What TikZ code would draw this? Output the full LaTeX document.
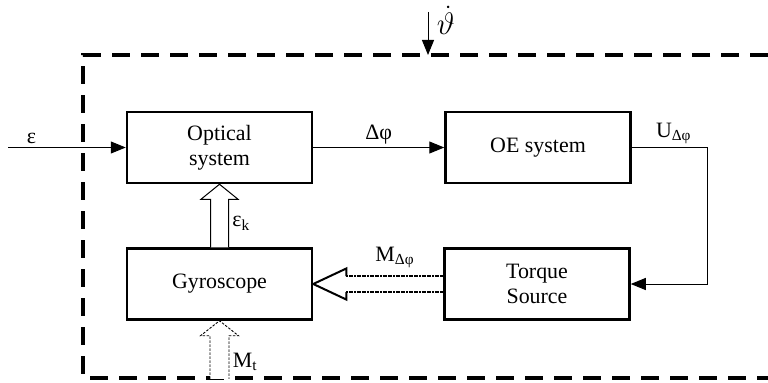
\documentclass[tikz,border=0pt]{standalone}
\usepackage{graphicx}
\usepackage{fontspec}
\setmainfont{Liberation Serif}
\usetikzlibrary{arrows.meta,positioning,calc}

\begin{document}
\begin{tikzpicture}[
  x=1bp, y=1bp,
  node distance=63bp and 131bp,
  every node/.style={font=\fontsize{22}{25}\selectfont},
  block/.style={draw, line width=2.5bp, align=center, fill=white,
                minimum width=185bp, minimum height=71bp, inner sep=2pt},
  frame/.style={line width=4.5bp, dash pattern=on 18bp off 11bp},
  line/.style={-{Triangle[length=15bp,width=12bp]}, line width=1bp},
  hollow/.style={draw, fill=white, line width=1bp},
  hollowdash/.style={draw, fill=white, line width=0.9bp, dash pattern=on 2.5bp off 1.5bp},
  headline/.style={line width=2bp, line join=miter},
  dotline/.style={line width=2.6bp, dash pattern=on 2bp off 0.6bp}
]
\useasboundingbox (0,0) rectangle (768,382);

% ===== Blocks =====
\node[block] (optical) at (219.5,234.5) {Optical\\system};
\node[block, right=of optical] (oe) {OE system};
\node[block, below=of optical] (gyro) {Gyroscope};
\node[block, right=130bp of gyro] (torque) {Torque\\Source};

% ===== Frame round the device =====
\draw[frame] (768,327) -| (83,4) -- (768,4);

% ===== Signal lines =====
\coordinate (in) at (8,234.5);
\draw[line] (in) -- node[above, pos=.2] (eps) {ε} (optical);
\draw[line] (optical) -- node[above] (dphi) {Δφ} (oe);
\draw[line] (oe.east) -- node[above, pos=.55] (udphi) {U\textsubscript{Δφ}} ++(76,0) coordinate (ucorner)
  |- (torque.east);

\coordinate (rate) at (428,370);
\coordinate (rateend) at (428,327);
\draw[line] (rate) -- (rateend)
  node[pos=.2, right=5bp] (ratelbl) {\scalebox{1.5}{$\dot{\vartheta}$}};

% ===== Hollow arrows =====
\draw[hollow] ($(gyro.north)+(-9,0)$) |- ($(optical.south)+(-18.5,-15)$) -- (optical.south)
  -- ($(optical.south)+(18.5,-15)$) -| ($(gyro.north)+(9,0)$)
  node[pos=.75, right] (epsk) {ε\textsubscript{k}};

\coordinate (mt) at ($(gyro.south)+(0,-58)$);
\draw[hollowdash] ($(mt)+(-9.5,0)$) |- ($(gyro.south)+(-19,-15)$) -- (gyro.south)
  -- ($(gyro.south)+(19,-15)$) -| ($(mt)+(9.5,0)$)
  node[pos=.8, right] (mtlbl) {M\textsubscript{t}};

% torque feedback: dotted shaft, solid head
\fill[white] ($(gyro.east)+(33,15.5)$) -- (gyro.east) -- ($(gyro.east)+(33,-15.5)$) -- cycle;
\fill[white] ($(gyro.east)+(33,8)$) rectangle ($(torque.west)+(0,-8)$);
\draw[dotline] ($(gyro.east)+(33,8)$) -- ($(torque.west)+(0,8)$)
  node[midway, above=4bp] (mdphi) {M\textsubscript{Δφ}};
\draw[dotline] ($(gyro.east)+(33,-8)$) -- ($(torque.west)+(0,-8)$);
\draw[headline] ($(gyro.east)+(33,8)$) -- ++(0,7.5) -- (gyro.east) -- ($(gyro.east)+(33,-15.5)$) -- ++(0,7.5);

\end{tikzpicture}
\end{document}
